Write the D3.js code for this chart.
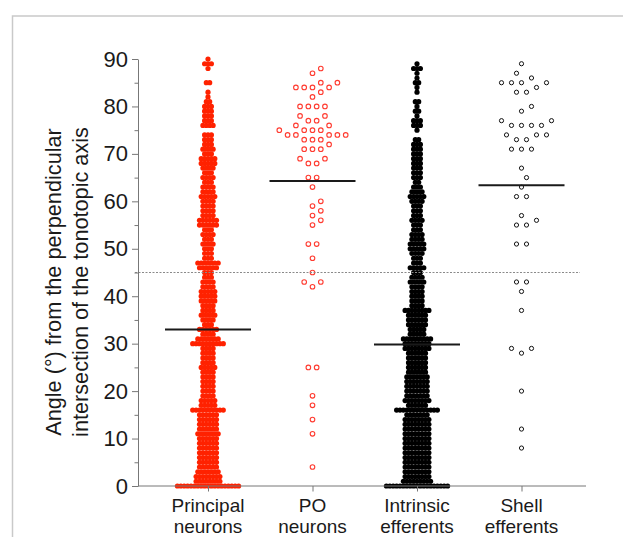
<!DOCTYPE html>
<html><head><meta charset="utf-8">
<script src="https://cdn.jsdelivr.net/npm/d3@7"></script>
<style>
body{margin:0;background:#fff}
svg{display:block}
text{font-family:"Liberation Sans",Arial,Helvetica,sans-serif}
</style>
</head><body>
<svg id="chart" width="623" height="537"></svg>
<script>
// ---------- data ----------
const categories = [["Principal","neurons"],["PO","neurons"],["Intrinsic","efferents"],["Shell","efferents"]];
const yTickValues = [0,10,20,30,40,50,60,70,80,90];
const yMinorTicks = [5,15,25,35,45,55,65,75,85];
// number of cells at each angle (index = angle in degrees)
const principalCounts = [19,8,8,7,6,6,6,6,6,6,6,7,6,6,6,6,10,5,5,4,4,4,4,4,4,5,4,4,4,4,10,7,4,6,3,4,5,4,4,5,5,5,4,4,3,3,6,7,3,3,3,4,3,4,3,6,6,4,4,4,4,5,4,4,3,4,3,4,5,5,3,4,3,3,3,0,4,3,3,3,3,2,1,1,0,2,0,0,1,3,1];
const intrinsicCounts = [19,9,8,8,8,8,8,8,8,8,8,8,8,8,8,7,13,6,8,7,7,7,7,7,6,6,6,6,6,8,8,9,5,5,6,6,6,8,4,4,4,4,4,5,4,3,5,3,3,4,5,5,4,4,3,3,4,3,3,3,4,5,4,3,2,3,3,3,3,3,3,3,3,2,0,1,3,3,1,2,1,2,0,1,1,2,1,1,3,1];
const poValues = [88,87,85,85,84,84,84,84,83,82,80,80,80,80,78,78,77,77,76,76,75,75,75,75,74,74,74,74,74,73,73,73,72,71,71,71,69,69,68,68,65,65,63,60,59,58,57,56,55,51,51,48,45,43,43,42,25,25,19,17,14,11,4];
const shellValues = [89,87,86,85,85,85,85,84,83,83,80,79,77,77,76,76,76,76,74,74,74,73,73,71,71,71,67,65,63,61,61,57,56,55,55,51,51,43,43,41,37,29,29,28,20,12,8];
const meanValues = [33.0, 64.3, 29.8, 63.4];
const referenceAngle = 45;

// ---------- layout ----------
const svg = d3.select("#chart");
const axisLeftX = 138, axisRightX = 586;
const y = d3.scaleLinear().domain([0, 90]).range([486, 59]);
const x = d3.scalePoint().domain(d3.range(categories.length)).range([208, 521.5]);

// frame
svg.append("rect").attr("x", 12.5).attr("y", 16).attr("width", 700).attr("height", 600)
  .attr("fill", "none").attr("stroke", "#c9c9c9").attr("stroke-width", 1.5);

// expand counts into point lists (one row per degree)
function expandCounts(counts) {
  const pts = [];
  counts.forEach((n, v) => { for (let i = 0; i < n; i++) pts.push({v, dx: (i - (n - 1) / 2) * 3.4}); });
  return pts;
}

// simple column scatter (beeswarm) for sparse groups
function swarm(values, spacing) {
  const sorted = values.slice().sort((a, b) => a - b);
  const placed = [];
  const cand = [0];
  for (let k = 1; k <= 30; k++) cand.push(k * 0.5, -k * 0.5);
  const ok = (px, py) => placed.every(p => Math.hypot(p.dx - px, p.py - py) >= spacing - 0.05);
  for (const [v, arr] of d3.groups(sorted, d => d)) {
    const py = y(v), n = arr.length;
    const block = d3.range(n).map(i => (i - (n - 1) / 2) * spacing);
    if (n > 1 && block.every(bx => ok(bx, py))) {
      block.forEach(bx => placed.push({v, dx: bx, py}));
      continue;
    }
    arr.forEach(() => {
      for (const c of cand) {
        const bx = c * spacing;
        if (ok(bx, py)) { placed.push({v, dx: bx, py}); break; }
      }
    });
  }
  return placed;
}

const gPts = svg.append("g");
// Principal neurons (filled red)
gPts.append("g").selectAll("circle").data(expandCounts(principalCounts)).join("circle")
  .attr("cx", d => x(0) + d.dx).attr("cy", d => y(d.v)).attr("r", 2.6)
  .attr("fill", "#ff2200");
// PO neurons (open red)
gPts.append("g").selectAll("circle").data(swarm(poValues, 8.3)).join("circle")
  .attr("cx", d => x(1) + d.dx).attr("cy", d => y(d.v)).attr("r", 2.3)
  .attr("fill", "none").attr("stroke", "#ff3b30").attr("stroke-width", 1.1);
// Intrinsic efferents (filled black)
gPts.append("g").selectAll("circle").data(expandCounts(intrinsicCounts)).join("circle")
  .attr("cx", d => x(2) + d.dx).attr("cy", d => y(d.v)).attr("r", 2.6)
  .attr("fill", "#000");
// Shell efferents (open black)
gPts.append("g").selectAll("circle").data(swarm(shellValues, 10)).join("circle")
  .attr("cx", d => x(3) + d.dx).attr("cy", d => y(d.v)).attr("r", 2.1)
  .attr("fill", "none").attr("stroke", "#111").attr("stroke-width", 1);

// mean lines
svg.append("g").selectAll("line").data(meanValues).join("line")
  .attr("x1", (d, i) => x(i) - 43).attr("x2", (d, i) => x(i) + 43)
  .attr("y1", d => y(d)).attr("y2", d => y(d))
  .attr("stroke", "#1a1a1a").attr("stroke-width", 2);

// 45 degree reference line
svg.append("line").attr("x1", axisLeftX - 3).attr("x2", 580)
  .attr("y1", y(referenceAngle)).attr("y2", y(referenceAngle))
  .attr("stroke", "#8a8a8a").attr("stroke-width", 1).attr("stroke-dasharray", "2,1.5");

// y axis
const yAxisG = svg.append("g").attr("transform", `translate(${axisLeftX},0)`)
  .call(d3.axisLeft(y).tickValues(yTickValues).tickSize(6).tickSizeOuter(0).tickPadding(4));
yAxisG.select(".domain").attr("stroke", "#777");
yAxisG.selectAll(".tick line").attr("stroke", "#777");
yAxisG.selectAll(".tick text").attr("font-size", 22).attr("fill", "#1a1a1a")
  .attr("font-family", "'Liberation Sans',Arial,sans-serif");
svg.append("g").attr("transform", `translate(${axisLeftX},0)`)
  .call(d3.axisLeft(y).tickValues(yMinorTicks).tickSize(3.5).tickSizeOuter(0).tickFormat(""))
  .call(g => g.select(".domain").remove())
  .call(g => g.selectAll(".tick line").attr("stroke", "#777"));

// x axis
svg.append("line").attr("x1", axisLeftX).attr("x2", axisRightX).attr("y1", y(0)).attr("y2", y(0))
  .attr("stroke", "#777").attr("stroke-width", 1);
const xAxisG = svg.append("g").attr("transform", `translate(0,${y(0)})`)
  .call(d3.axisBottom(x).tickSize(5.5).tickSizeOuter(0).tickFormat(""));
xAxisG.select(".domain").remove();
xAxisG.selectAll(".tick line").attr("stroke", "#777");

// category labels
const catG = svg.append("g").selectAll("text").data(categories).join("text")
  .attr("text-anchor", "middle").attr("font-size", 19).attr("fill", "#1a1a1a");
catG.append("tspan").attr("x", (d, i) => x(i)).attr("y", 511.5).text(d => d[0]);
catG.append("tspan").attr("x", (d, i) => x(i)).attr("y", 533).text(d => d[1]);

// y axis title
const yTitle = ["Angle (°) from the perpendicular", "intersection of the tonotopic axis"];
svg.append("g").selectAll("text").data(yTitle).join("text")
  .attr("transform", (d, i) => `translate(${61 + i * 27},282) rotate(-90)`)
  .attr("text-anchor", "middle").attr("font-size", 21.7).attr("fill", "#1a1a1a")
  .text(d => d);
</script>
</body></html>
